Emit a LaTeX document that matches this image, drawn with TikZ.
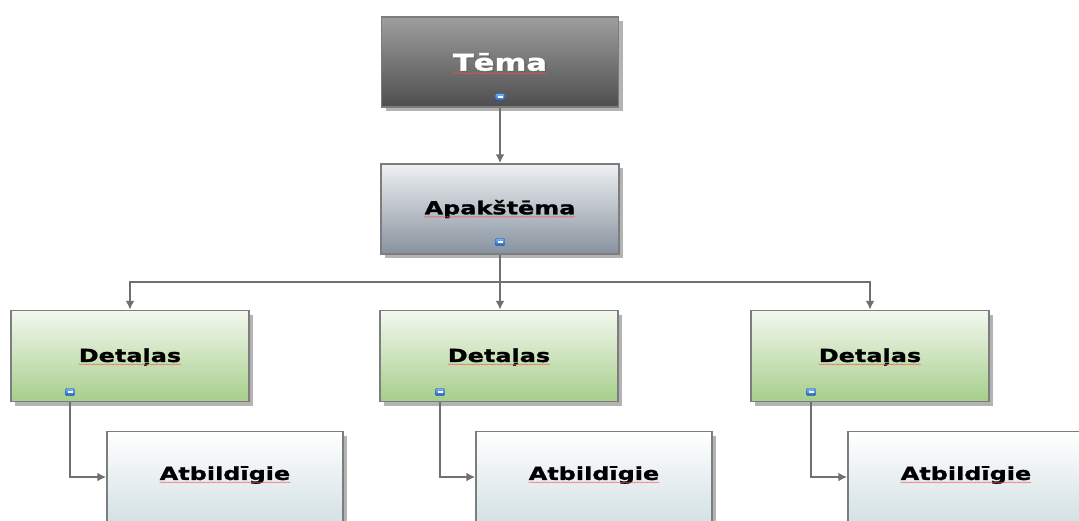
\documentclass[tikz,border=0pt]{standalone}
\usepackage{fontspec}
\newfontfamily\boxfont[FakeStretch=1.33, FakeBold=1.3]{DejaVu Sans}
\usetikzlibrary{arrows.meta,shadows,decorations.pathmorphing}

\definecolor{edgegray}{RGB}{125,125,125}
\definecolor{linegray}{RGB}{112,112,112}
\definecolor{tematop}{RGB}{158,158,158}
\definecolor{temabot}{RGB}{78,78,78}
\definecolor{apaktop}{RGB}{238,241,244}
\definecolor{apakbot}{RGB}{135,146,158}
\definecolor{dettop}{RGB}{243,248,239}
\definecolor{detbot}{RGB}{166,206,139}
\definecolor{atbtop}{RGB}{255,255,255}
\definecolor{atbbot}{RGB}{211,225,229}
\definecolor{icontop}{RGB}{120,180,240}
\definecolor{iconbot}{RGB}{30,100,200}

\tikzset{
  topicbox/.style={draw=edgegray, line width=1.5pt, minimum width=238pt,
    minimum height=91pt, inner sep=0pt,
    drop shadow={shadow xshift=4pt, shadow yshift=-4pt, opacity=0.6}},
  temabox/.style={topicbox, top color=tematop, bottom color=temabot},
  apakbox/.style={topicbox, top color=apaktop, bottom color=apakbot},
  detbox/.style={topicbox, top color=dettop, bottom color=detbot},
  atbbox/.style={topicbox, top color=atbtop, bottom color=atbbot, minimum width=236pt},
  boxtext/.style={inner sep=0pt, font=\boxfont\bfseries\fontsize{18}{20}\selectfont},
  spell/.style={draw=red!70, line width=0.5pt, opacity=0.8, decorate,
    decoration={snake, amplitude=0.5pt, segment length=2.5pt}},
  collapse/.style={draw=iconbot!80!black, line width=0.4pt, rounded corners=1pt,
    minimum width=9pt, minimum height=7pt, inner sep=0pt,
    top color=icontop, bottom color=iconbot,
    path picture={\draw[white, line width=1.2pt]
      ([xshift=2pt]path picture bounding box.west) --
      ([xshift=-2pt]path picture bounding box.east);}},
  conn/.style={draw=linegray, line width=2.2pt, -{Latex[length=9pt,width=9pt]}}
}

\begin{document}
\begin{tikzpicture}[x=1pt,y=-1pt]
  \useasboundingbox (0,0) rectangle (1079,520);

  % boxes
  \node[temabox, minimum width=237pt, minimum height=90pt] (tema) at (500,62) {};
  \node[apakbox, minimum height=90pt] (apak) at (500,209) {};
  \node[detbox] (det1) at (130,356) {};
  \node[detbox] (det2) at (499,356) {};
  \node[detbox] (det3) at (870,356) {};
  \node[atbbox] (atb1) at (225,477) {};
  \node[atbbox] (atb2) at (594,477) {};
  \node[atbbox] (atb3) at (966,477) {};

  % texts
  \node[boxtext, text=black!60] at (501.5,63.5) {\fontsize{23}{25}\selectfont Tēma};
  \node[boxtext, text=white] (tematxt) at (500,62) {\fontsize{23}{25}\selectfont Tēma};
  \node[boxtext] (apaktxt) at (apak) {Apakštēma};
  \foreach \i in {1,2,3} {
    \node[boxtext] (dettxt\i) at ([yshift=-1pt]det\i) {Detaļas};
    \node[boxtext] (atbtxt\i) at ([yshift=2pt]atb\i) {Atbildīgie};
  }
  \foreach \t in {tematxt,apaktxt,dettxt1,dettxt2,dettxt3,atbtxt1,atbtxt2,atbtxt3}
    \draw[spell] ([yshift=-2.5pt]\t.base west) -- ([yshift=-2.5pt]\t.base east);

  % collapse buttons
  \node[collapse] (temaicon) at (500,97) {};
  \node[collapse] (apakicon) at (500,242) {};
  \node[collapse] (deticon1) at (70,392) {};
  \node[collapse] (deticon2) at (440,392) {};
  \node[collapse] (deticon3) at (811,392) {};

  % connectors
  \coordinate (bus) at (500,282);
  \draw[conn] (tema.south) -- (apak.north);
  \draw[draw=linegray, line width=2.2pt] (apak.south) -- (bus);
  \draw[conn] (bus) -| (det1.north);
  \draw[conn] (bus) -- (det2.north -| bus);
  \draw[conn] (bus) -| (det3.north);
  \foreach \i in {1,2,3}
    \draw[conn] (deticon\i |- det\i.south) |- (atb\i.west);
\end{tikzpicture}
\end{document}
